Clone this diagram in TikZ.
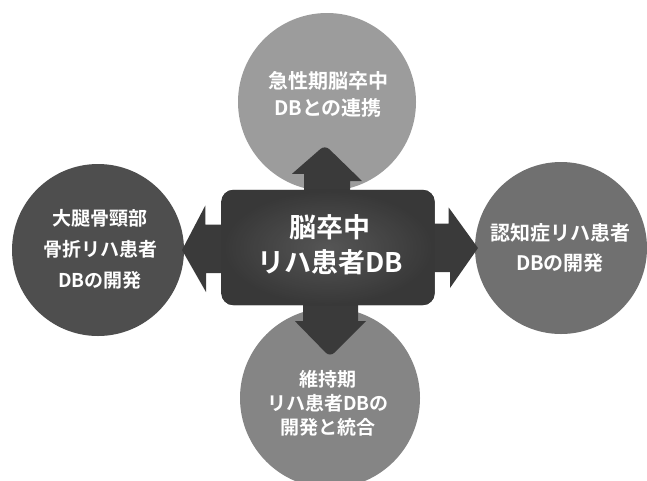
\documentclass[tikz,border=0pt]{standalone}
\usepackage{fontspec}
\newfontfamily\jp{Noto Sans CJK JP}[BoldFont={Noto Sans CJK JP Bold}]
\definecolor{ctop}{HTML}{9C9C9C}
\definecolor{cleft}{HTML}{4E4E4E}
\definecolor{cright}{HTML}{707070}
\definecolor{cbot}{HTML}{858585}
\definecolor{cbox}{HTML}{383838}
\definecolor{cboxl}{HTML}{7A7A7A}
\definecolor{carr}{HTML}{3A3A3A}
\begin{document}
\begin{tikzpicture}[x=1pt,y=-1pt,
  circ/.style={circle,inner sep=0pt,minimum size=#1},
  lbl/.style={text=white,align=center,inner sep=0pt,font=\jp\bfseries},
  blockarr/.style={fill=carr}]
\useasboundingbox (0,0) rectangle (647,480);
% circles
\node[circ=178pt,fill=ctop] (top) at (327,102) {};
\node[circ=172pt,fill=cleft] (left) at (98,250) {};
\node[circ=172pt,fill=cright] (right) at (561,248) {};
\node[circ=180pt,fill=cbot] (bot) at (330,398) {};
% central box
\node[draw=none,rounded corners=12pt,minimum width=213pt,minimum height=115pt,
      inner sep=0pt,
      left color=cbox,right color=cbox] (box) at (328,247.5) {};
% block arrows
\fill[blockarr] (box.north) ++(-24,10) -- ++(0,-26) -- ++(-12,0)
   [rounded corners=6pt] -- (325,145) [sharp corners] -- (362,181) -- ++(-12,0) -- ++(0,26) -- cycle;
\fill[blockarr] (box.south) ++(-25,-10) -- ++(0,26) -- ++(-8,0)
   [rounded corners=6pt] -- (330,357) [sharp corners] -- (366,321) -- ++(-8,0) -- ++(0,-26) -- cycle;
\fill[blockarr] (box.west) ++(10,-23) -- ++(-26,0) -- ++(0,-19)
   -- (182,250) -- (206,292) -- ++(0,-19) -- ++(26,0) -- cycle;
\fill[blockarr] (box.east) ++(-10,-24) -- ++(24,0) -- ++(0,-16)
   -- (478,248) -- (450,288) -- ++(0,-16) -- ++(-24,0) -- cycle;
% box on top with shading
\shade[rounded corners=12pt,inner color=cboxl,outer color=cbox,
   shading=radial] (box.north west) rectangle (box.south east);
\fill[rounded corners=12pt,cbox,opacity=0.55] (box.north west) rectangle (box.south east);
% labels
\node[lbl,font=\jp\bfseries\fontsize{20}{27}\selectfont] (toptext) at (328,94)
  {急性期脳卒中\\DBとの連携};
\node[lbl,font=\jp\bfseries\fontsize{19}{31}\selectfont] (lefttext) at (100,249)
  {大腿骨頸部\\骨折リハ患者\\DBの開発};
\node[lbl,font=\jp\bfseries\fontsize{20}{30}\selectfont] (righttext) at (560,248)
  {認知症リハ患者\\DBの開発};
\node[lbl,font=\jp\bfseries\fontsize{19}{24}\selectfont] (bottext) at (328,403)
  {維持期\\リハ患者DBの\\開発と統合};
\node[lbl,font=\jp\bfseries\fontsize{27}{35}\selectfont] (boxtext) at (330,245)
  {脳卒中\\リハ患者DB};
\end{tikzpicture}
\end{document}
